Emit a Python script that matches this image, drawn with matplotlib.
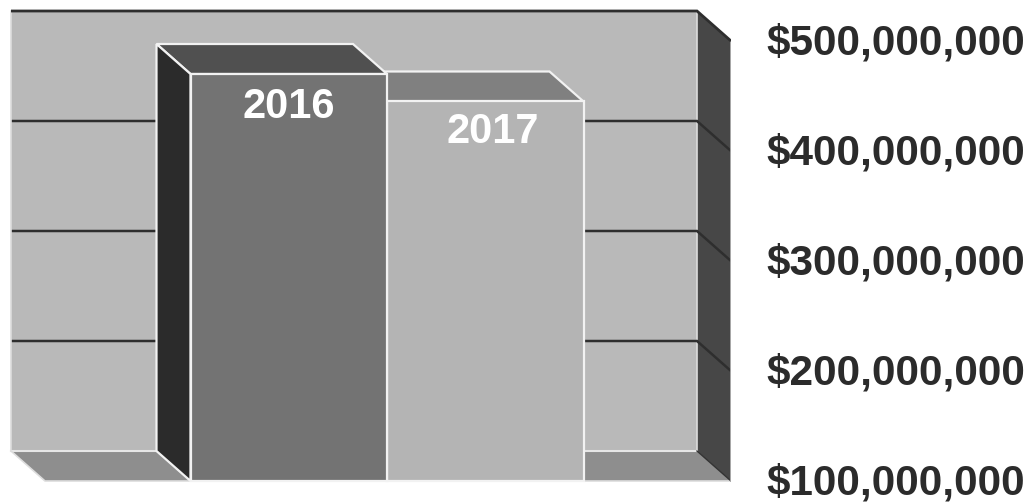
import matplotlib
matplotlib.use('Agg')
import matplotlib.pyplot as plt
from matplotlib.patches import Polygon
from matplotlib.transforms import ScaledTranslation

# values in $ millions
years = ['2016', '2017']
values = [470, 445]
front_colors = ['#737373', '#b4b4b4']
top_colors = ['#505050', '#808080']
side_colors = ['#2b2b2b', '#b4b4b4']
label_colors = ['white', 'white']
label_drop = [33, 31]
label_shift = [0, 8]

ticks = [100, 200, 300, 400, 500]
tick_labels = ['$100,000,000', '$200,000,000', '$300,000,000', '$400,000,000', '$500,000,000']

plt.rcParams['font.family'] = ['Liberation Sans', 'DejaVu Sans']

fig = plt.figure(figsize=(10.30, 5.03), dpi=100)
# axes runs from the left edge to the front right corner of the box
ax = fig.add_axes([0, 0, 731 / 1030, 1])
ax.set_xlim(0, 731)
ax.set_ylim(100 - 22 / 1.1, 100 + 481 / 1.1)

# depth of the 3d box, in data units
dx = 34
dy = 30 / 1.1
x0 = 45
x1 = 731
ymin, ymax = ticks[0], ticks[-1]


def poly(pts, face, edge=None, lw=0, z=1):
    ax.add_patch(Polygon(pts, closed=True, facecolor=face, edgecolor=edge or face, linewidth=lw, zorder=z))


# back wall, floor, right wall
poly([(x0 - dx, ymin + dy), (x1 - dx, ymin + dy), (x1 - dx, ymax + dy), (x0 - dx, ymax + dy)], '#b9b9b9', z=1)
poly([(x0 - dx, ymin + dy), (x1 - dx, ymin + dy), (x1, ymin), (x0, ymin)], '#8e8e8e', z=1)
poly([(x1 - dx, ymin + dy), (x1, ymin), (x1, ymax), (x1 - dx, ymax + dy)], '#474747', z=1)

# gridlines on both walls
for t in ticks[1:-1]:
    ax.plot([x0 - dx, x1 - dx, x1], [t + dy, t + dy, t], color='#2e2e2e', lw=1.8, zorder=2,
            solid_joinstyle='miter', solid_capstyle='butt')
# light borders
ax.plot([x0 - dx, x0 - dx], [ymin + dy, ymax + dy], color='#dddddd', lw=1.2, zorder=2)
ax.plot([x1 - dx, x1 - dx], [ymin + dy, ymax + dy], color='#dddddd', lw=1.2, zorder=1.5)
ax.plot([x0 - dx, x1 - dx], [ymin + dy, ymin + dy], color='#e6e6e6', lw=1.5, zorder=2)
ax.plot([x0 - dx, x0, x1], [ymin + dy, ymin, ymin], color='#dddddd', lw=1.2, zorder=2)
ax.plot([x1 - dx, x1], [ymin + dy, ymin], color='#333333', lw=1, zorder=2)
ax.plot([x1, x1], [ymin, ymax], color='#bbbbbb', lw=1.2, zorder=2)

# bars, drawn back to front so 2016 sits over 2017
bar_w = 196.5
bar_left = [190.5, 387]
for i in [1, 0]:
    l, r, v = bar_left[i], bar_left[i] + bar_w, values[i]
    z = 5 - i
    ax.bar(l, v - ymin, width=bar_w, bottom=ymin, align='edge', color=front_colors[i],
           edgecolor='#f2f2f2', linewidth=1.6, zorder=z + 0.2)
    poly([(l, v), (r, v), (r - dx, v + dy), (l - dx, v + dy)], top_colors[i], '#f2f2f2', 1.6, z)
    if i == 0:
        poly([(l, ymin), (l, v), (l - dx, v + dy), (l - dx, ymin + dy)], side_colors[i], '#f2f2f2', 1.6, z)
    ax.text(l + bar_w / 2 + label_shift[i], v - label_drop[i] / 1.1, years[i], color=label_colors[i],
            fontsize=30, fontweight='bold', ha='center', va='center', zorder=8)

ax.yaxis.tick_right()
ax.set_yticks(ticks)
ax.set_yticklabels(tick_labels, fontsize=30.4, fontweight='bold', color='#2b2b2b')
ax.tick_params(axis='y', length=0, pad=25.5)
ax.set_xticks([])
for s in ax.spines.values():
    s.set_visible(False)
# nudge the labels up so the bottom one stays in the picture
for lab in ax.get_yticklabels():
    lab.set_transform(lab.get_transform() + ScaledTranslation(0, 2 / 100, fig.dpi_scale_trans))

# top edge of the back wall and right wall
ax.plot([x0 - dx, x1 - dx, x1], [ymax + dy, ymax + dy, ymax], color='#2e2e2e', lw=2, zorder=3,
        solid_joinstyle='miter', solid_capstyle='butt')

fig.savefig('out.png', dpi=100)
